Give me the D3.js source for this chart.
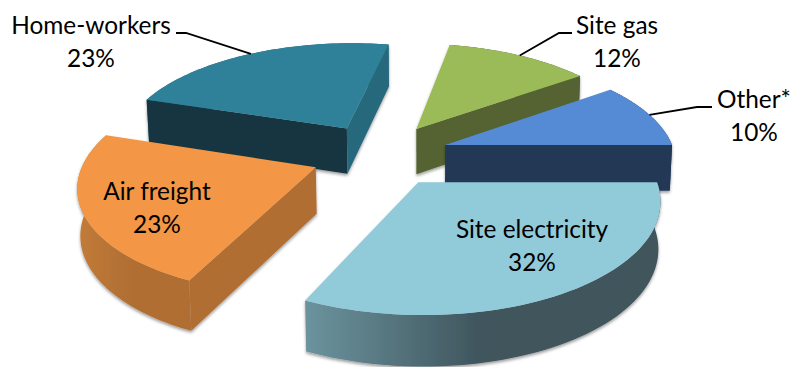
<!DOCTYPE html>
<html>
<head>
<meta charset="utf-8">
<script src="https://cdn.jsdelivr.net/npm/d3@7"></script>
<style>
  html, body { margin: 0; padding: 0; background: #fff; }
  svg { display: block; }
  text { font-family: Lato, "Open Sans", sans-serif; font-size: 24.4px; fill: #000; }
</style>
</head>
<body>
<script>
// Emissions share by source, clockwise from the back-left of the pie
const categories = ["Home-workers", "Site gas", "Other*", "Site electricity", "Air freight"];
const shares = [23, 12, 10, 32, 23];

const width = 792, height = 367;

// Colour of each slice: top face, start wall, end wall, rim gradient ends
const topColors = ["#2f8199", "#9bbb59", "#558bd4", "#91cad9", "#f39644"];
const startWall = ["#14343f", "#546230", "#233755", "#3f545c", "#b06e33"];
const endWall = ["#27687c", "#546230", "#233755", "#3f545c", "#b06e33"];
const rimLeft = ["#27687c", "#546230", "#233755", "#6b949e", "#c27b38"];
const rimRight = ["#27687c", "#546230", "#233755", "#3f545c", "#b06e33"];

// Perspective camera for the pie plane (radius 1, y running away from the viewer)
const cam = { vx: 390, horizon: -565, fx: 1580, fy: 4945, d0: 6.872, ox: -0.042 };
const explode = 0.30;
const rad = d => d * Math.PI / 180;

const project = (px, py) => {
  const d = cam.d0 + py;
  return [cam.vx + cam.fx * (px + cam.ox) / d, cam.horizon + cam.fy / d];
};

// Extrusion downward: grows slightly toward the viewer, with lines converging
const wallDepth = d3.scaleLinear().domain([96, 302]).range([44, 51]);
const drop = ([x, y]) => [x + (420 - x) * 0.009, y + wallDepth(y)];

const pie = d3.pie().sort(null).startAngle(rad(-72)).endAngle(rad(288));
const arcs = pie(shares);

const line = d3.line();
const svg = d3.select("body").append("svg").attr("width", width).attr("height", height);
const defs = svg.append("defs");

const shadow = defs.append("filter").attr("id", "soft-shadow")
  .attr("x", "-10%").attr("y", "-10%").attr("width", "120%").attr("height", "125%");
shadow.append("feDropShadow").attr("dx", 0).attr("dy", 2).attr("stdDeviation", 1.6)
  .attr("flood-color", "#000").attr("flood-opacity", 0.38);

const geometry = arcs.map((a, i) => {
  const mid = (a.startAngle + a.endAngle) / 2;
  const cx = explode * Math.sin(mid), cy = explode * Math.cos(mid);
  const apex = project(cx, cy);
  const onRim = t => project(cx + Math.sin(t), cy + Math.cos(t));
  const steps = d3.range(0, 61).map(k => a.startAngle + (a.endAngle - a.startAngle) * k / 60);
  return { i, mid, apex, rim: steps.map(onRim), onRim };
});

// A straight wall shows only when the slice's top face sits above its edge
const faceUp = (apex, end, inner) => {
  const side = (end[0] - apex[0]) * (inner[1] - apex[1]) - (end[1] - apex[1]) * (inner[0] - apex[0]);
  return (end[0] < apex[0]) ? side > 0 : side < 0;
};

// Back slices first so nearer ones overlap them
const paintOrder = [1, 0, 2, 4, 3];

paintOrder.forEach(idx => {
  const s = geometry[idx];
  const g = svg.append("g").attr("class", "slice").attr("filter", "url(#soft-shadow)");
  const first = s.rim[0], last = s.rim[s.rim.length - 1];
  const inner = s.onRim(s.mid);

  const gradId = "rim-" + idx;
  const xs = d3.extent(s.rim, p => p[0]);
  const grad = defs.append("linearGradient").attr("id", gradId)
    .attr("gradientUnits", "userSpaceOnUse")
    .attr("x1", xs[0]).attr("x2", xs[1]).attr("y1", 0).attr("y2", 0);
  grad.append("stop").attr("offset", "0%").attr("stop-color", rimLeft[idx]);
  grad.append("stop").attr("offset", "50%").attr("stop-color", rimRight[idx]);
  grad.append("stop").attr("offset", "100%").attr("stop-color", rimRight[idx]);

  g.append("path")
    .attr("d", line(s.rim.concat(s.rim.map(drop).reverse())) + "Z")
    .attr("fill", `url(#${gradId})`);
  if (faceUp(s.apex, first, inner)) {
    g.append("path").attr("d", line([s.apex, first, drop(first), drop(s.apex)]) + "Z").attr("fill", startWall[idx]);
  }
  if (faceUp(s.apex, last, inner)) {
    g.append("path").attr("d", line([s.apex, last, drop(last), drop(s.apex)]) + "Z").attr("fill", endWall[idx]);
  }
  g.append("path")
    .attr("d", line([s.apex].concat(s.rim)) + "Z")
    .attr("fill", topColors[idx]);
});

// Label placement: centre x and first baseline; outside labels get a leader line
const labelSpots = [
  { x: 91, y: 34, elbow: [[176, 33], [186, 33]] },
  { x: 617, y: 34, elbow: [[572, 33], [559, 33]] },
  { x: 754, y: 108, elbow: [[712, 107], [697, 107]] },
  { x: 532, y: 238 },
  { x: 157, y: 200 }
];

labelSpots.forEach((spot, i) => {
  if (spot.elbow) {
    svg.append("path")
      .attr("d", line(spot.elbow.concat([geometry[i].onRim(geometry[i].mid)])))
      .attr("fill", "none").attr("stroke", "#000").attr("stroke-width", 1.8);
  }
  const t = svg.append("text").attr("text-anchor", "middle");
  t.append("tspan").attr("x", spot.x).attr("y", spot.y).text(categories[i]);
  t.append("tspan").attr("x", spot.x).attr("y", spot.y + 33).text(shares[i] + "%");
});
</script>
</body>
</html>
